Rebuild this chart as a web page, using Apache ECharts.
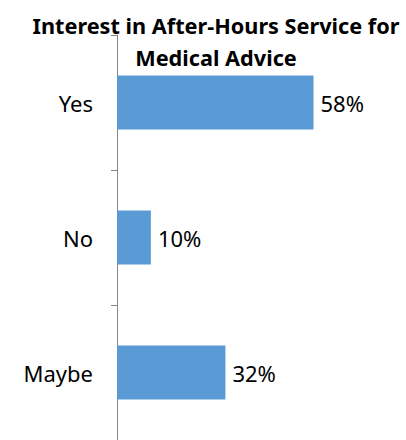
<!DOCTYPE html>
<html>
<head>
<meta charset="utf-8">
<script src="https://cdn.jsdelivr.net/npm/echarts@6/dist/echarts.min.js"></script>
<style>
  html, body { margin: 0; padding: 0; background: #fff; }
  #chart { width: 406px; height: 440px; }
</style>
</head>
<body>
<div id="chart"></div>
<script>
// answers, top to bottom
const categories = ['Yes', 'No', 'Maybe'];
const percents = [58, 10, 32];

const chart = echarts.init(document.getElementById('chart'), null, { renderer: 'svg' });

chart.setOption({
    animation: false,
    title: {
        text: 'Interest in After-Hours Service for\nMedical Advice',
        left: 216,
        top: 9,
        padding: 0,
        textAlign: 'center',
        textStyle: {
            fontFamily: 'Noto Sans',
            fontWeight: 'bold',
            fontSize: 21.7,
            lineHeight: 32,
            color: '#000'
        }
    },
    grid: {
        left: 117,
        width: 288,
        top: 35,
        height: 410
    },
    xAxis: {
        type: 'value',
        min: 0,
        max: 85,
        show: false
    },
    yAxis: {
        type: 'category',
        inverse: true,
        data: categories,
        axisLine: { lineStyle: { color: '#868686', width: 1 } },
        axisTick: { show: true, length: 6, lineStyle: { color: '#868686' } },
        axisLabel: {
            margin: 24,
            fontFamily: 'Noto Sans',
            fontSize: 22,
            color: '#000'
        },
        splitLine: { show: false }
    },
    series: [{
        type: 'bar',
        data: percents,
        barCategoryGap: '60%',
        itemStyle: { color: '#5B9BD5' },
        label: {
            show: true,
            position: 'right',
            distance: 7,
            formatter: '{c}%',
            fontFamily: 'Noto Sans',
            fontSize: 22,
            color: '#000'
        }
    }]
});
</script>
</body>
</html>
